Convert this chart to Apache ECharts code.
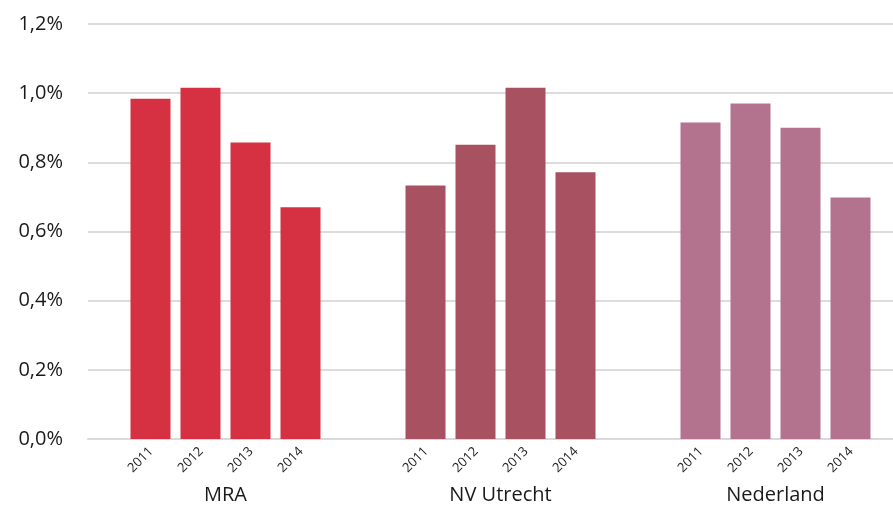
<!DOCTYPE html>
<html>
<head>
<meta charset="utf-8">
<script src="https://cdn.jsdelivr.net/npm/echarts@6/dist/echarts.min.js"></script>
<style>
  html, body { margin: 0; padding: 0; background: #fff; overflow: hidden; }
  #chart { width: 913px; height: 506px; }
</style>
</head>
<body>
<div id="chart"></div>
<script>
const regions = ["MRA", "NV Utrecht", "Nederland"];
const years = ["2011", "2012", "2013", "2014"];
// waarden per jaar, in volgorde van regions
const v2011 = [0.984, 0.733, 0.915];
const v2012 = [1.016, 0.851, 0.970];
const v2013 = [0.857, 1.016, 0.900];
const v2014 = [0.670, 0.771, 0.698];
const yTicks = [0, 0.2, 0.4, 0.6, 0.8, 1.0, 1.2];

const regionColors = ["#d63143", "#a85160", "#b3738f"];
const font = "Open Sans";

function makeSeries(name, values) {
  return {
    name: name,
    type: "bar",
    barWidth: 40,
    barGap: "25%",
    data: values.map((v, i) => ({
      value: v,
      itemStyle: { color: regionColors[i] }
    })),
    label: {
      show: true,
      position: "bottom",
      distance: 11,
      offset: [1, 0],
      rotate: 45,
      align: "right",
      verticalAlign: "middle",
      formatter: "{a}",
      fontFamily: font,
      fontSize: 13,
      color: "#222"
    }
  };
}

// de grafiek loopt rechts iets buiten beeld door (913 breed, 893 zichtbaar)
const myChart = echarts.init(document.getElementById("chart"));
myChart.setOption({
  animation: false,
  grid: { left: 88, right: 0, top: 24, bottom: 67 },
  xAxis: {
    type: "category",
    data: regions,
    axisTick: { show: false },
    axisLine: { lineStyle: { color: "#d9d9d9", width: 2 } },
    axisLabel: {
      margin: 46,
      fontFamily: font,
      fontSize: 20,
      color: "#1a1a1a"
    }
  },
  yAxis: {
    type: "value",
    min: yTicks[0],
    max: yTicks[yTicks.length - 1],
    interval: 0.2,
    axisLine: { show: false },
    axisTick: { show: false },
    splitLine: { lineStyle: { color: "#dcdcdc", width: 2 } },
    axisLabel: {
      margin: 25,
      fontFamily: font,
      fontSize: 20,
      color: "#1a1a1a",
      formatter: v => v.toFixed(1).replace(".", ",") + "%"
    }
  },
  series: [
    makeSeries(years[0], v2011),
    makeSeries(years[1], v2012),
    makeSeries(years[2], v2013),
    makeSeries(years[3], v2014)
  ]
});

window.onresize = function () {
  myChart.resize();
};
</script>
</body>
</html>
